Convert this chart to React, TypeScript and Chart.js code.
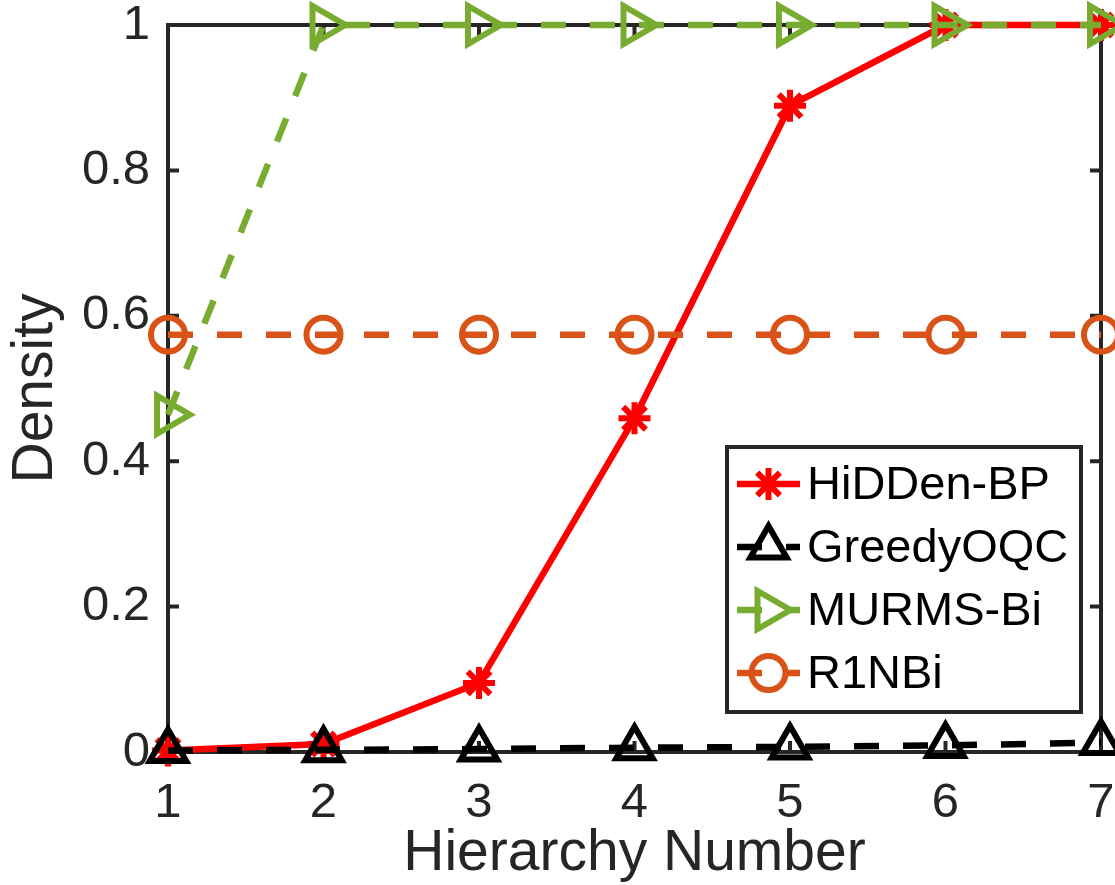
import React, { useEffect, useRef } from 'react';
import { Chart, registerables } from 'chart.js';
import { drawPoint } from 'chart.js/helpers';

Chart.register(...registerables);

const hierarchy = [1, 2, 3, 4, 5, 6, 7];
const hiddenBP = [0.002, 0.011, 0.095, 0.459, 0.889, 1, 1];
const greedyOQC = [0.002, 0.003, 0.004, 0.006, 0.007, 0.009, 0.013];
const murmsBi = [0.464, 1, 1, 1, 1, 1, 1];
const r1nbi = [0.574, 0.574, 0.574, 0.574, 0.574, 0.574, 0.574];
const seriesNames = ['HiDDen-BP', 'GreedyOQC', 'MURMS-Bi', 'R1NBi'];
const xTickValues = [1, 2, 3, 4, 5, 6, 7];
const yTickValues = [0, 0.2, 0.4, 0.6, 0.8, 1];
const xTitle = 'Hierarchy Number';
const yTitle = 'Density';

const FONT = "'Liberation Sans', Arial, Helvetica, sans-serif";
const AXIS_COLOR = '#262626';

const framePlugin = {
  id: 'frame',
  beforeDatasetsDraw(chart: any) {
    const { ctx, chartArea: ca, scales } = chart;
    ctx.save();
    ctx.strokeStyle = AXIS_COLOR;
    ctx.lineWidth = 4;
    ctx.strokeRect(ca.left, ca.top, ca.right - ca.left, ca.bottom - ca.top);
    const tl = 11;
    ctx.beginPath();
    yTickValues.forEach((v) => {
      const y = scales.y.getPixelForValue(v);
      ctx.moveTo(ca.left, y);
      ctx.lineTo(ca.left + tl, y);
      ctx.moveTo(ca.right, y);
      ctx.lineTo(ca.right - tl, y);
    });
    xTickValues.forEach((v) => {
      const x = scales.x.getPixelForValue(v);
      ctx.moveTo(x, ca.bottom);
      ctx.lineTo(x, ca.bottom - tl);
      ctx.moveTo(x, ca.top);
      ctx.lineTo(x, ca.top + tl);
    });
    ctx.stroke();
    ctx.restore();
  },
};

const legendPlugin = {
  id: 'boxLegend',
  afterDraw(chart: any) {
    const { ctx, chartArea: ca } = chart;
    const left = ca.right - 374;
    const top = ca.top + 422;
    const width = 354;
    const height = 265;
    ctx.save();
    ctx.fillStyle = '#ffffff';
    ctx.fillRect(left, top, width, height);
    ctx.strokeStyle = AXIS_COLOR;
    ctx.lineWidth = 4;
    ctx.strokeRect(left, top, width, height);
    chart.data.datasets.forEach((ds: any, i: number) => {
      const y = top + 37 + i * 63;
      const x0 = left + 10;
      const x1 = left + 73;
      ctx.save();
      ctx.strokeStyle = ds.borderColor;
      ctx.lineWidth = ds.borderWidth;
      ctx.setLineDash(ds.borderDash || []);
      ctx.beginPath();
      ctx.moveTo(x0, y);
      ctx.lineTo(x1, y);
      ctx.stroke();
      ctx.setLineDash([]);
      ctx.fillStyle = 'rgba(0,0,0,0)';
      ctx.strokeStyle = ds.pointBorderColor;
      ctx.lineWidth = ds.pointBorderWidth;
      drawPoint(
        ctx,
        {
          pointStyle: ds.pointStyle,
          rotation: ds.pointRotation || 0,
          radius: ds.pointRadius,
          borderWidth: ds.pointBorderWidth,
        } as any,
        (x0 + x1) / 2,
        y
      );
      ctx.restore();
      ctx.fillStyle = '#000000';
      ctx.font = `47px ${FONT}`;
      ctx.textAlign = 'left';
      ctx.textBaseline = 'middle';
      ctx.fillText(ds.label, left + 80, y + 2);
    });
    ctx.restore();
  },
};

function series(values: number[]) {
  return hierarchy.map((x, i) => ({ x, y: values[i] }));
}

export default function App() {
  const canvasRef = useRef<HTMLCanvasElement | null>(null);

  useEffect(() => {
    const canvas = canvasRef.current;
    if (!canvas) return;
    const common = {
      borderWidth: 6.5,
      pointBorderWidth: 6,
      pointBackgroundColor: 'rgba(0,0,0,0)',
      backgroundColor: 'rgba(0,0,0,0)',
      fill: false,
      clip: false as any,
      tension: 0,
    };
    const chart = new Chart(canvas, {
      type: 'line',
      data: {
        datasets: [
          {
            ...common,
            label: seriesNames[0],
            data: series(hiddenBP),
            borderColor: '#FF0000',
            pointBorderColor: '#FF0000',
            borderDash: [],
            pointStyle: 'star',
            pointRadius: 16,
            order: 4,
          },
          {
            ...common,
            label: seriesNames[1],
            data: series(greedyOQC),
            borderColor: '#000000',
            pointBorderColor: '#000000',
            borderDash: [25, 24],
            pointStyle: 'triangle',
            pointRadius: 21,
            order: 3,
          },
          {
            ...common,
            label: seriesNames[2],
            data: series(murmsBi),
            borderColor: '#77AC30',
            pointBorderColor: '#77AC30',
            borderDash: [25, 24],
            pointStyle: 'triangle',
            pointRotation: 90,
            pointRadius: 22,
            order: 2,
          },
          {
            ...common,
            label: seriesNames[3],
            data: series(r1nbi),
            borderColor: '#D95319',
            pointBorderColor: '#D95319',
            borderDash: [25, 24],
            pointStyle: 'circle',
            pointRadius: 17,
            order: 1,
          },
        ] as any,
      },
      options: {
        responsive: false,
        animation: false,
        devicePixelRatio: 1,
        events: [],
        layout: { autoPadding: false, padding: { top: 25, right: 14, left: 0, bottom: 0 } },
        plugins: {
          legend: { display: false },
          tooltip: { enabled: false },
        },
        scales: {
          x: {
            type: 'linear',
            min: 1,
            max: 7,
            afterBuildTicks: (s: any) => {
              s.ticks = xTickValues.map((v) => ({ value: v }));
            },
            afterFit: (s: any) => {
              s.height = 133;
              s.paddingLeft = 0;
              s.paddingRight = 0;
            },
            ticks: {
              font: { family: FONT, size: 49 },
              color: AXIS_COLOR,
              padding: 22,
              maxRotation: 0,
              callback: (v: any) => String(v),
            },
            grid: { display: false, drawTicks: false },
            border: { display: false },
            title: {
              display: true,
              text: xTitle,
              color: AXIS_COLOR,
              font: { family: FONT, size: 57, lineHeight: 1 },
              padding: { top: 0, bottom: 2 },
            },
          },
          y: {
            type: 'linear',
            min: 0,
            max: 1,
            afterBuildTicks: (s: any) => {
              s.ticks = yTickValues.map((v) => ({ value: v }));
            },
            afterFit: (s: any) => {
              s.width = 168;
              s.paddingTop = 0;
              s.paddingBottom = 0;
            },
            ticks: {
              font: { family: FONT, size: 49 },
              color: AXIS_COLOR,
              padding: 18,
              callback: (v: any) => String(Number(Number(v).toFixed(1))),
            },
            grid: { display: false, drawTicks: false },
            border: { display: false },
            title: {
              display: true,
              text: yTitle,
              color: AXIS_COLOR,
              font: { family: FONT, size: 57, lineHeight: 1 },
              padding: { top: 8, bottom: 0 },
            },
          },
        },
      },
      plugins: [framePlugin, legendPlugin],
    });
    return () => chart.destroy();
  }, []);

  return (
    <div style={{ position: 'absolute', left: 0, top: 0, width: 1115, height: 885, background: '#ffffff' }}>
      <canvas ref={canvasRef} width={1115} height={885} style={{ display: 'block', width: 1115, height: 885 }} />
    </div>
  );
}
